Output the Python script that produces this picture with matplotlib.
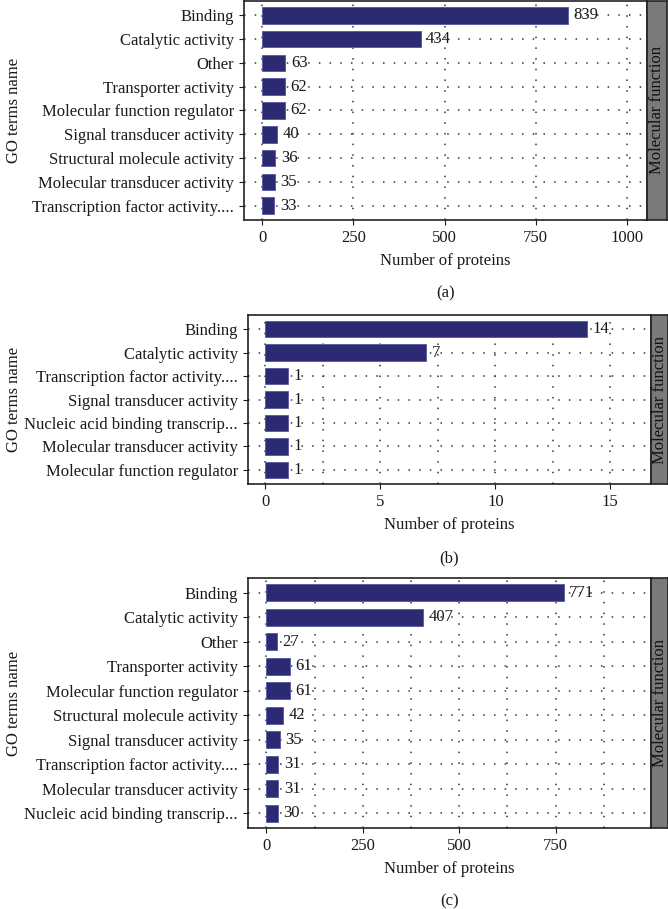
#!/usr/bin/env python3
"""GO molecular function bar charts, three panels (a), (b), (c)."""

import matplotlib
matplotlib.use('Agg')
import matplotlib.pyplot as plt
from matplotlib.ticker import MultipleLocator

plt.rcParams['font.family'] = ['Liberation Serif', 'DejaVu Serif']

# Panel (a)
terms_a = ['Binding', 'Catalytic activity', 'Other', 'Transporter activity',
           'Molecular function regulator', 'Signal transducer activity',
           'Structural molecule activity', 'Molecular transducer activity',
           'Transcription factor activity....']
counts_a = [839, 434, 63, 62, 62, 40, 36, 35, 33]

# Panel (b)
terms_b = ['Binding', 'Catalytic activity', 'Transcription factor activity....',
           'Signal transducer activity', 'Nucleic acid binding transcrip...',
           'Molecular transducer activity', 'Molecular function regulator']
counts_b = [14, 7, 1, 1, 1, 1, 1]

# Panel (c)
terms_c = ['Binding', 'Catalytic activity', 'Other', 'Transporter activity',
           'Molecular function regulator', 'Structural molecule activity',
           'Signal transducer activity', 'Transcription factor activity....',
           'Molecular transducer activity', 'Nucleic acid binding transcrip...']
counts_c = [771, 407, 27, 61, 61, 42, 35, 31, 31, 30]

W, H = 668, 909
BAR = '#2b2a73'
TXT = '#1a1a1a'
FS = 12
GRID = dict(color='#333333', linestyle=(0, (1, 6)), linewidth=1.1, zorder=0)

fig = plt.figure(figsize=(W / 100, H / 100), dpi=100)


def px_rect(left, top, right, bottom):
    return [left / W, 1 - bottom / H, (right - left) / W, (bottom - top) / H]


def panel(terms, counts, rect, strip_right, xlim, major, minor, tag, tag_y):
    left, top, right, bottom = rect
    ax = fig.add_axes(px_rect(left, top, right, bottom))
    n = len(terms)
    ypos = list(range(n))
    ax.barh(ypos, counts, height=0.7, color=BAR, edgecolor='#5556a0',
            linewidth=0.6, zorder=3)
    for y, c in zip(ypos, counts):
        ax.annotate(str(c), (c, y), xytext=(4, 0), textcoords='offset points',
                    va='center', ha='left', fontsize=FS, color=TXT, zorder=4)
    ax.set_ylim(n - 1 + 0.6, -0.6)
    ax.set_xlim(*xlim)
    ax.set_yticks(ypos)
    ax.set_yticklabels(terms, fontsize=FS, color=TXT)
    ax.xaxis.set_major_locator(MultipleLocator(major))
    if minor:
        ax.xaxis.set_minor_locator(MultipleLocator(minor))
        ax.grid(True, which='minor', axis='x', **GRID)
    ax.tick_params(axis='x', which='minor', length=0)
    ax.tick_params(axis='both', which='major', length=3.5, width=0.8,
                   color=TXT, labelsize=FS, labelcolor=TXT)
    ax.grid(True, which='major', **GRID)
    for s in ax.spines.values():
        s.set_linewidth(1.2)
        s.set_color('#222222')
    ax.set_xlabel('Number of proteins', fontsize=FS, color=TXT, labelpad=5)
    ax.set_ylabel('GO terms name', fontsize=FS, color=TXT)
    ax.yaxis.set_label_coords((22 - left) / (right - left), 0.5)

    sax = fig.add_axes(px_rect(right, top, strip_right, bottom))
    sax.set_facecolor('#7a7a7a')
    sax.set_xticks([])
    sax.set_yticks([])
    for s in sax.spines.values():
        s.set_linewidth(1.2)
        s.set_color('#222222')
    sax.text(0.5, 0.5, 'Molecular function', rotation=90, ha='center',
             va='center', fontsize=FS, color='#111111',
             transform=sax.transAxes)

    fig.text((left + right) / 2 / W, 1 - tag_y / H, tag, ha='center',
             va='center', fontsize=FS, color=TXT)
    return ax


panel(terms_a, counts_a, (244, 1, 647, 220), 667, (-50, 1055), 250, None,
      '(a)', 293)
panel(terms_b, counts_b, (247.5, 315, 651, 484), 668, (-0.78, 16.77), 5, 2.5,
      '(b)', 558)
panel(terms_c, counts_c, (247.5, 578, 651, 828), 668, (-49, 997), 250, 125,
      '(c)', 901)

fig.savefig('out.png', dpi=100)
